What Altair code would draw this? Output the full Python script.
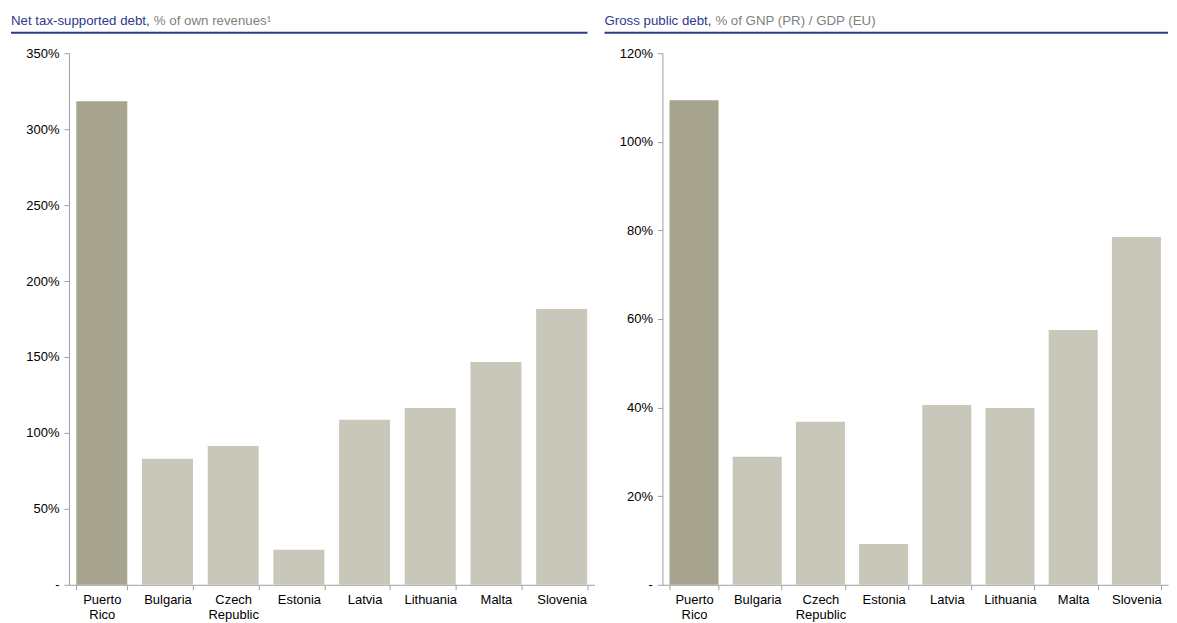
import altair as alt
import pandas as pd

FONT = "Liberation Sans"

categories = ["Puerto|Rico", "Bulgaria", "Czech|Republic", "Estonia", "Latvia",
              "Lithuania", "Malta", "Slovenia"]
highlight = ["Puerto|Rico"]
net_debt = [318.4, 82.9, 91.4, 23.0, 108.6, 116.4, 146.7, 181.6]
gross_debt = [109.4, 28.9, 36.8, 9.2, 40.6, 39.9, 57.5, 78.5]
left_ticks = [0, 50, 100, 150, 200, 250, 300, 350]
right_ticks = [0, 20, 40, 60, 80, 100, 120]

left_title = ["Net tax-supported debt,", "% of own revenues\u00b9"]
right_title = ["Gross public debt,", "% of GNP (PR) / GDP (EU)"]

BLUE = "#2E3A8C"
GREY_TXT = "#7F7F7F"
HI = "#A6A48E"
LO = "#C8C7BA"

H = 532


def panel(values, ticks, ymax, titles, second_x, width, rule_end):
    df = pd.DataFrame({
        "cat": categories,
        "value": values,
        "grp": ["hi" if c in highlight else "lo" for c in categories],
    })
    bars = alt.Chart(df).mark_bar().encode(
        x=alt.X("cat:N", sort=categories,
                scale=alt.Scale(paddingInner=0.224, paddingOuter=0.112),
                axis=alt.Axis(title=None, labelAngle=0, tickBand="extent",
                              labelExpr="split(datum.label, '|')",
                              tickSize=5, labelPadding=4,
                              labelLineHeight=15)),
        y=alt.Y("value:Q", scale=alt.Scale(domain=[0, ymax], nice=False),
                axis=alt.Axis(title=None, values=ticks, grid=False,
                              tickSize=5, labelPadding=5,
                              labelExpr="datum.value == 0 ? '-' : datum.value + '%'")),
        color=alt.Color("grp:N", scale=alt.Scale(domain=["hi", "lo"], range=[HI, LO]),
                        legend=None),
    )
    t1 = alt.Chart(pd.DataFrame({"t": [titles[0]]})).mark_text(
        align="left", baseline="alphabetic", font=FONT, fontSize=13.3, color=BLUE
    ).encode(x=alt.value(-58), y=alt.value(-28), text="t:N")
    t2 = alt.Chart(pd.DataFrame({"t": [titles[1]]})).mark_text(
        align="left", baseline="alphabetic", font=FONT, fontSize=13.3, color=GREY_TXT
    ).encode(x=alt.value(second_x), y=alt.value(-28), text="t:N")
    rule = alt.Chart(pd.DataFrame({"r": [0]})).mark_rule(
        color=BLUE, strokeWidth=2
    ).encode(x=alt.value(-58), x2=alt.value(rule_end), y=alt.value(-20.5))
    return alt.layer(bars, t1, t2, rule).properties(width=width, height=H)


left = panel(net_debt, left_ticks, 350, left_title, 85, 526, 519)
right = panel(gross_debt, right_ticks, 120, right_title, 53, 506, 506)

chart = alt.hconcat(left, right, spacing=9).properties(
    padding={"left": 2, "top": 6, "right": 0, "bottom": 0}
).configure_view(stroke=None).configure_axis(
    labelFont=FONT, labelFontSize=13, labelColor="#000000",
    domainColor="#A0A0A0", tickColor="#A0A0A0", domainWidth=1, tickWidth=1
)

chart.save("out.html", embed_options={"renderer": "svg", "actions": False})
